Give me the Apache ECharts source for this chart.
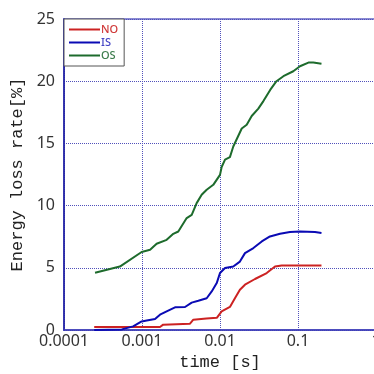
<!DOCTYPE html>
<html>
<head>
<meta charset="utf-8">
<script src="https://cdn.jsdelivr.net/npm/echarts@6/dist/echarts.min.js"></script>
<style>
  html, body { margin: 0; padding: 0; background: #fff; }
  #chart { width: 374px; height: 374px; }
</style>
</head>
<body>
<div id="chart"></div>
<script>
// 系列名
const seriesNames = ['NO', 'IS', 'OS']
const lineColors = ['#cc2222', '#0a0ab4', '#1d6b2c']
const legendColors = ['#d03a3a', '#4444c4', '#3d7d4d']

// x 轴刻度 (log)
const xTickLabels = ['0.0001', '0.001', '0.01', '0.1', '1']

// 数据 [time(s), rate(%)]
const noData = [
  [0.000244, 0.24], [0.0017, 0.24], [0.00187, 0.43], [0.0041, 0.5],
  [0.00455, 0.83], [0.0067, 0.93], [0.0091, 0.98], [0.0105, 1.5],
  [0.0134, 1.85], [0.0156, 2.57], [0.018, 3.24], [0.0209, 3.64],
  [0.0281, 4.1], [0.0397, 4.58], [0.0507, 5.1], [0.0618, 5.19], [0.2, 5.19]
]
const isData = [
  [0.000244, 0.0], [0.00055, 0.05], [0.00077, 0.29], [0.00099, 0.69],
  [0.00115, 0.77], [0.00147, 0.88], [0.0017, 1.23], [0.00207, 1.5],
  [0.00265, 1.82], [0.00356, 1.85], [0.00434, 2.2], [0.00527, 2.35],
  [0.00675, 2.55], [0.00783, 3.1], [0.00908, 3.77], [0.01, 4.58],
  [0.0116, 4.98], [0.0148, 5.1], [0.018, 5.5], [0.0209, 6.18],
  [0.0268, 6.59], [0.0343, 7.12], [0.0437, 7.52], [0.0588, 7.73],
  [0.0788, 7.87], [0.106, 7.92], [0.165, 7.87], [0.2, 7.79]
]
const osData = [
  [0.00025, 4.6], [0.00052, 5.1], [0.00099, 6.27], [0.00127, 6.45],
  [0.00154, 6.93], [0.00207, 7.25], [0.00252, 7.73], [0.00292, 7.92],
  [0.00374, 9.0], [0.00434, 9.26], [0.00502, 10.2], [0.00582, 10.87],
  [0.00675, 11.27], [0.0082, 11.67], [0.01, 12.47], [0.0105, 13.1],
  [0.0116, 13.7], [0.0134, 13.9], [0.0148, 14.75], [0.019, 16.2],
  [0.022, 16.5], [0.0255, 17.2], [0.031, 17.8], [0.036, 18.4],
  [0.044, 19.3], [0.053, 20.0], [0.065, 20.4], [0.087, 20.8],
  [0.106, 21.2], [0.136, 21.5], [0.157, 21.5], [0.2, 21.4]
]
const allData = [noData, isData, osData]

const chart = echarts.init(document.getElementById('chart'))

const option = {
  backgroundColor: '#fff',
  animation: false,
  grid: {
    left: 64,
    top: 19,
    right: -2,
    bottom: 44,
    outerBoundsMode: 'none',
    show: true,
    borderColor: '#8a8ad2',
    borderWidth: 2
  },
  legend: {
    left: 64,
    top: 19,
    orient: 'vertical',
    icon: 'path://M0,0 L31,0 L31,2 L0,2 Z',
    itemWidth: 31,
    itemHeight: 10,
    itemGap: 2,
    padding: [5, 6, 5, 5],
    backgroundColor: '#fff',
    borderColor: '#555',
    borderWidth: 1,
    borderRadius: 0,
    textStyle: { fontSize: 11, fontFamily: 'Noto Sans', fontWeight: 500, padding: [0, 0, 0, -4] },
    data: seriesNames.map((n, i) => ({ name: n, textStyle: { color: legendColors[i] } }))
  },
  xAxis: {
    type: 'log',
    logBase: 10,
    min: 0.0001,
    max: 1,
    name: 'time [s]',
    nameLocation: 'middle',
    nameGap: 23,
    nameTextStyle: { fontFamily: 'Liberation Mono', fontSize: 17, color: '#222' },
    axisLine: { lineStyle: { color: '#3a3ab8', width: 1.5 } },
    axisTick: { show: false },
    axisLabel: {
      margin: 3,
      fontSize: 16,
      fontFamily: 'Noto Sans',
      color: '#333',
      formatter: v => xTickLabels[Math.round(Math.log10(v)) + 4]
    },
    splitLine: { show: true, lineStyle: { type: 'dotted', color: '#5050bb', width: 1 } },
    minorTick: { show: false }
  },
  yAxis: {
    type: 'value',
    min: 0,
    max: 25,
    interval: 5,
    name: 'Energy loss rate[%]',
    nameLocation: 'middle',
    nameRotate: 90,
    nameGap: 24,
    nameTextStyle: { fontFamily: 'Liberation Mono', fontSize: 17, color: '#222' },
    axisLine: { show: true, lineStyle: { color: '#1a1aa0', width: 1.5 } },
    axisTick: { show: false },
    axisLabel: { margin: 9, fontSize: 16, fontFamily: 'Noto Sans', color: '#333' },
    splitLine: { show: true, lineStyle: { type: 'dotted', color: '#5050bb', width: 1 } }
  },
  series: seriesNames.map((n, i) => ({
    name: n,
    type: 'line',
    data: allData[i],
    symbol: 'none',
    color: lineColors[i],
    lineStyle: { width: 2, color: lineColors[i] },
    z: 3 + i
  }))
}

chart.setOption(option)
</script>
</body>
</html>
